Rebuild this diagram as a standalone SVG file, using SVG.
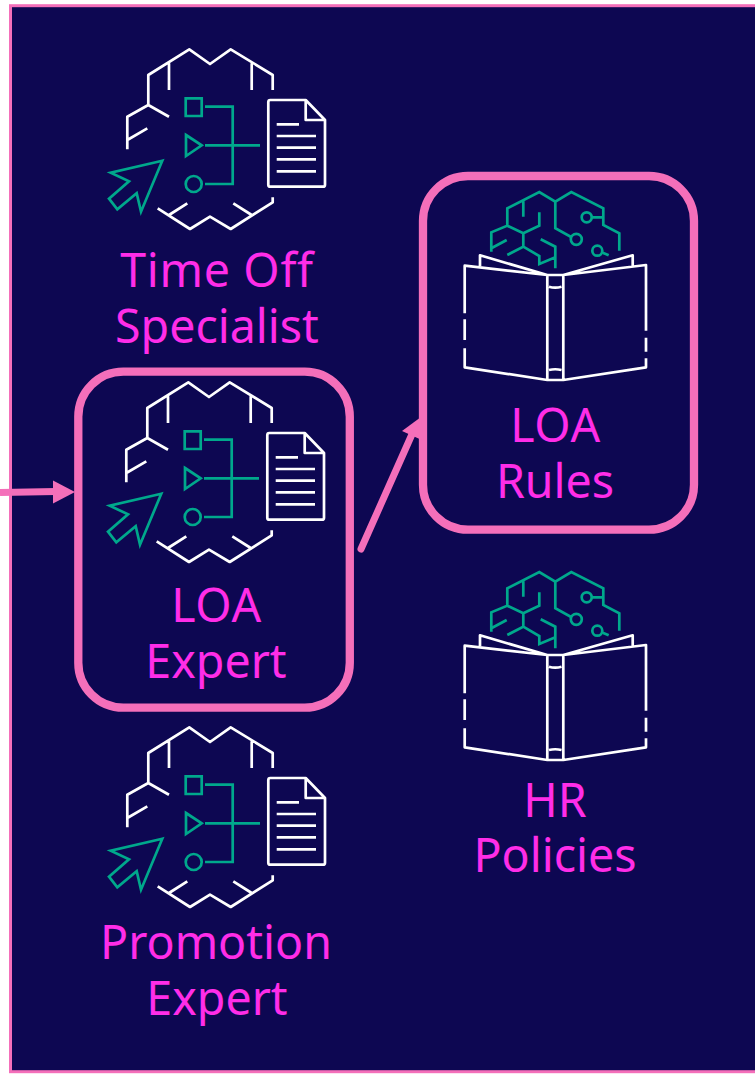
<svg xmlns="http://www.w3.org/2000/svg" width="755" height="1074" viewBox="0 0 755 1074">
<style>
.w{fill:none;stroke:#fff;stroke-width:2.7;stroke-linejoin:round}
.g{fill:none;stroke:#00a88c;stroke-width:2.7;stroke-linejoin:miter}
.box{fill:none;stroke:#f46fba;stroke-width:8.300}
.lbl{font-family:"Noto Sans","Open Sans",sans-serif;font-size:46.500px;fill:#ff2de8;text-anchor:middle}
.wide{letter-spacing:.7px}
.c{fill:none;stroke:#f46fba;stroke-width:7;stroke-linecap:round}
</style>
<defs>
<g id="agent">
<path class="w" d="M148.3 90V75L189.3 49.3 210 64 230.7 49.3 272.7 75V90M169 63.3V90M251.7 63.3V90M148.3 75V105L127.3 116.7V149.3M148.3 105L169 116.7M127.3 140L147.3 128.3M157.7 208.3L190 229 210 216.7 230.7 229 272.7 202.3V197.3M169 215L187.3 203.3M251.7 215L233.3 203.3"/>
<path class="w" d="M270.3 100H305.7L325 120V184.700a2 2 0 0 1-2 2H270.3a2 2 0 0 1-2-2V102a2 2 0 0 1 2-2ZM305.7 100V120H325M276.7 124.3H299M276.7 136H316M276.7 147.7H316M276.7 159.3H316M276.7 171.3H316"/>
<path class="g" d="M185.7 98.3H201.7V116H185.7ZM205 106.7H232.7V184H205M205 145.3H260M186 135L201.7 145.3 186 156ZM162.3 160.7L110.7 172.7 129 181.3 109 198.7 117.3 209.3 136.7 193.3 141 211.7Z"/>
<circle class="g" cx="193.7" cy="184" r="8"/>
</g>
<g id="book">
<path class="w" d="M464.7 313.3V265.7L547.3 275V380L464.7 367.3V348.3M464.7 319.3V340M563.3 275L646 265V330.7M646 337.7V351.7M646 358.3V367.3L563.3 380V275M547.3 380H563.3M547.3 275H563.3M480 266V255.3L547.3 275M632.7 266V255.3L563.3 275M549 286.7Q555 288.5 561.5 286.7M549 370Q555 368.500 561.5 370"/>
<path class="g" d="M491.3 251.7V232.3L507.3 225.7V208.3L539.3 192 555.3 201.7 571.3 192 603.3 208.3V225L619.3 233.3V250.7M523.3 200V216.7M507.3 225.7L523.3 233.3 539.3 225.7V212.3M523.3 233.3V246.7L507.3 255M523.3 246.7L539.3 256V264L555.3 257.3V268.3M555.3 257.3V246.7L540.7 239.3M491.3 248.3L506.7 240M555.3 201.7V228.3L570.7 236.7M592 217.3H603.3M602.7 252.7L608.7 255.3"/>
<circle class="g" cx="576.3" cy="239.3" r="5.500"/><circle class="g" cx="586.7" cy="217.3" r="5"/><circle class="g" cx="597.3" cy="250.7" r="5"/>
</g>
</defs>
<rect width="755" height="1074" fill="#fff"/>
<rect id="frame" x="10.5" y="5.700" width="760" height="1066" fill="#0d0752" stroke="#f46fba" stroke-width="3"/>
<g id="time-off"><use href="#agent"/><text class="lbl wide" x="217" y="287">Time Off</text><text class="lbl" x="217" y="343">Specialist</text></g>
<g id="loa-expert"><rect class="box" x="78.300" y="371.700" width="271.500" height="336" rx="45"/><use href="#agent" x="-1" y="333"/><text class="lbl wide" x="216.500" y="622">LOA</text><text class="lbl" x="216" y="678">Expert</text></g>
<g id="promotion"><use href="#agent" y="678"/><text class="lbl" x="216" y="959">Promotion</text><text class="lbl" x="217" y="1015">Expert</text></g>
<g id="loa-rules"><rect class="box" x="423" y="176" width="271" height="353.700" rx="45"/><use href="#book"/><text class="lbl wide" x="555.500" y="442">LOA</text><text class="lbl" x="555" y="498">Rules</text></g>
<g id="hr-policies"><use href="#book" y="380"/><text class="lbl" x="555" y="817">HR</text><text class="lbl" x="555" y="872">Policies</text></g>
<g id="connectors">
<path class="c" d="M0 492.500L56 491.500" style="stroke-linecap:butt"/>
<path d="M53 480.500L75 492 53 503.500Z" fill="#f46fba"/>
<path class="c" d="M361 549L413 432"/>
<path d="M402 431L421 417 424 441Z" fill="#f46fba"/>
</g>
</svg>
